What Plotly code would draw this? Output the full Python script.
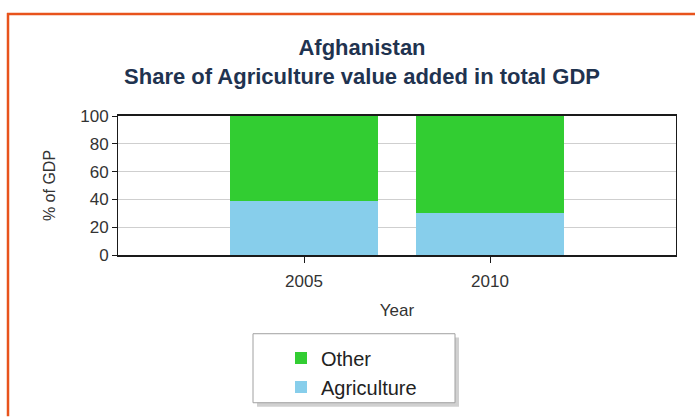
import plotly.graph_objects as go

years = ["2005", "2010"]
agriculture = [39, 30]
other = [61, 70]
y_ticks = [0, 20, 40, 60, 80, 100]

fig = go.Figure()
fig.add_trace(go.Bar(name="Agriculture", x=years, y=agriculture,
                     marker=dict(color="#87CEEB", line=dict(width=0)), width=0.8))
fig.add_trace(go.Bar(name="Other", x=years, y=other,
                     marker=dict(color="#32CD32", line=dict(width=0)), width=0.8))

font_family = "Liberation Sans, Arial, sans-serif"

fig.update_layout(
    width=695, height=418,
    barmode="stack",
    paper_bgcolor="white", plot_bgcolor="white",
    margin=dict(l=118, r=19, t=116, b=159),
    font=dict(family=font_family, color="#333333", size=17),
    title=dict(
        text="<b>Afghanistan<br>Share of Agriculture value added in total GDP</b>",
        x=362 / 695, xanchor="center", y=1 - 55 / 418, yanchor="middle",
        font=dict(size=22, color="#1F3350", family=font_family),
    ),
    xaxis=dict(
        type="category", range=[-1, 2],
        showline=True, linecolor="#1a1a1a", linewidth=2, mirror=True,
        ticks="outside", ticklen=6, tickcolor="#1a1a1a",
        ticklabelstandoff=4,
        showgrid=False,
        title=dict(text="Year", font=dict(size=17), standoff=14),
        tickfont=dict(size=17),
    ),
    yaxis=dict(
        range=[0, 100], tickvals=y_ticks,
        showline=True, linecolor="#1a1a1a", linewidth=1, mirror=True,
        ticks="outside", ticklen=5, tickcolor="#1a1a1a",
        showgrid=True, gridcolor="#cfcfcf", gridwidth=1,
        zeroline=False,
        title=dict(text="% of GDP", font=dict(size=16), standoff=20),
        tickfont=dict(size=17),
    ),
    legend=dict(
        orientation="v", traceorder="reversed",
        x=(281 - 118) / 558, xanchor="left",
        y=(259 - 345) / 143, yanchor="top",
        bgcolor="rgba(0,0,0,0)", borderwidth=0,
        font=dict(size=20, color="#222222"),
    ),
    shapes=[
        # legend shadow
        dict(type="rect", xref="paper", yref="paper",
             x0=(257 - 118) / 558, x1=(459 - 118) / 558,
             y0=(259 - 344) / 143, y1=(259 - 415) / 143,
             fillcolor="#b0b0b0", line=dict(width=0), layer="above", opacity=0.6),
        # legend box
        dict(type="rect", xref="paper", yref="paper",
             x0=(253 - 118) / 558, x1=(455 - 118) / 558,
             y0=(259 - 340) / 143, y1=(259 - 411) / 143,
             fillcolor="white", line=dict(width=1, color="#a0a0a0"), layer="above"),
        # orange frame (top and left edges)
        dict(type="line", xref="paper", yref="paper",
             x0=(7 - 118) / 558, x1=(700 - 118) / 558,
             y0=(259 - 11) / 143, y1=(259 - 11) / 143,
             line=dict(color="#E8531C", width=2.5), layer="above"),
        dict(type="line", xref="paper", yref="paper",
             x0=(8 - 118) / 558, x1=(8 - 118) / 558,
             y0=(259 - 10) / 143, y1=(259 - 425) / 143,
             line=dict(color="#E8531C", width=2.5), layer="above"),
    ],
)

fig.write_html("out.html", config={"displayModeBar": False},
               post_script="document.body.style.margin='0';")
